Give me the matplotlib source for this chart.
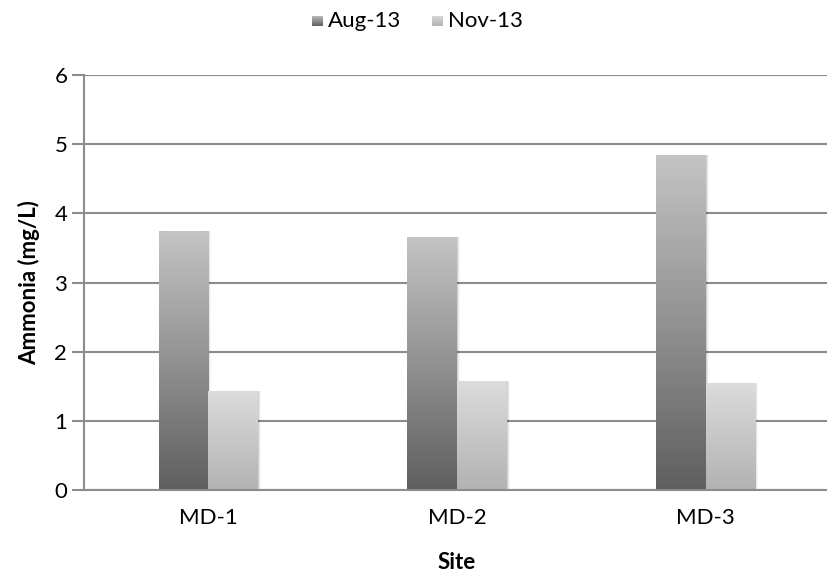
import numpy as np
import matplotlib
matplotlib.use("Agg")
import matplotlib.pyplot as plt
from matplotlib.patches import Rectangle
from matplotlib.colors import LinearSegmentedColormap

plt.rcParams['font.family'] = ['Lato', 'DejaVu Sans']

sites = ["MD-1", "MD-2", "MD-3"]
series_names = ["Aug-13", "Nov-13"]
aug13 = [3.74, 3.66, 4.84]
nov13 = [1.43, 1.57, 1.55]
yticks = [0, 1, 2, 3, 4, 5, 6]

# gradient colour ramps (bottom -> top)
ramps = {
    "Aug-13": LinearSegmentedColormap.from_list("aug", ["#5f5f5f", "#c4c4c4"]),
    "Nov-13": LinearSegmentedColormap.from_list("nov", ["#b2b2b2", "#dcdcdc"]),
}

W, H = 828, 577
fig = plt.figure(figsize=(W / 100, H / 100), dpi=100)
left, right, bottom, top = 84, 830, 490, 75
ax = fig.add_axes([left / W, 1 - bottom / H, (right - left) / W, (bottom - top) / H])

ax.set_xlim(-0.5, len(sites) - 0.5)
ax.set_ylim(0, 6)
ax.set_yticks(yticks)
ax.yaxis.grid(True, color="#8c8c8c", linewidth=1.5, zorder=0)
ax.set_axisbelow(True)

bar_w = 0.2
grad = np.linspace(0, 1, 256).reshape(-1, 1)

def gradient_bar(x0, h, cmap):
    # soft drop shadow to the right
    for i, a in enumerate([0.10, 0.06, 0.03]):
        ax.add_patch(Rectangle((x0 + 0.004 * (i + 1), 0), bar_w, h,
                               facecolor="black", alpha=a, linewidth=0, zorder=2))
    im = ax.imshow(grad, extent=(x0, x0 + bar_w, 0, h), origin="lower",
                   cmap=cmap, aspect="auto", zorder=3)
    clip = Rectangle((x0, 0), bar_w, h, transform=ax.transData,
                     facecolor="none", edgecolor="none")
    ax.add_patch(clip)
    im.set_clip_path(clip)

x = np.arange(len(sites))
for xi, a, n in zip(x, aug13, nov13):
    gradient_bar(xi - bar_w, a, ramps["Aug-13"])
    gradient_bar(xi, n, ramps["Nov-13"])

ax.set_xlim(-0.5, len(sites) - 0.5)
ax.set_ylim(0, 6)
ax.set_xticks(x)
ax.set_xticklabels(sites)

for s in ["top", "right"]:
    ax.spines[s].set_visible(False)
for s in ["left", "bottom"]:
    ax.spines[s].set_color("#8c8c8c")
    ax.spines[s].set_linewidth(1.5)
    ax.spines[s].set_zorder(4)

ax.tick_params(axis="y", length=9, width=1.5, color="#8c8c8c", labelsize=16, pad=3)
ax.tick_params(axis="x", length=0, labelsize=16, pad=13)

ax.set_xlabel("Site", fontsize=16, fontweight="bold", labelpad=17)
ax.set_ylabel("Ammonia (mg/L)", fontsize=16, fontweight="bold", labelpad=10)

# legend with gradient swatches
lx = [312, 432]
ly = 1 - 21 / H
sw = 11 / W
sh = 11 / H
for name, xx in zip(series_names, lx):
    lax = fig.add_axes([xx / W, ly - sh / 2, sw, sh])
    lax.imshow(grad, cmap=ramps[name], aspect="auto", origin="lower")
    lax.axis("off")
    fig.text((xx + 16) / W, ly, name, fontsize=16, va="center", ha="left")

fig.savefig("out.png", dpi=100)
